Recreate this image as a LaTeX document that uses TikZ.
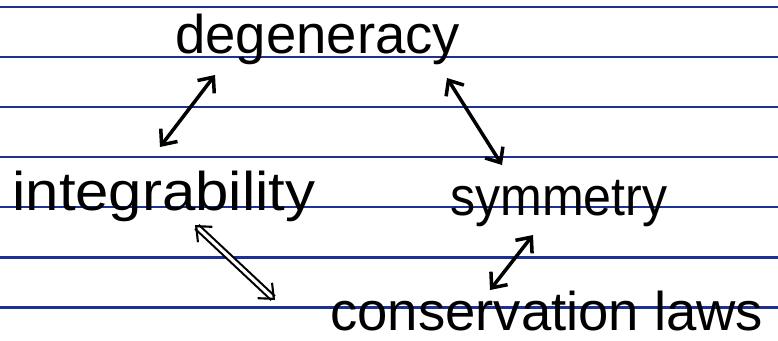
\documentclass[tikz,border=0pt]{standalone}
\usepackage{fontspec}
\setmainfont{Liberation Sans}
\usetikzlibrary{arrows.meta}
\definecolor{ruling}{RGB}{28,48,150}
\tikzset{
    word/.style={font=\fontsize{31}{36}\selectfont, inner sep=0pt, anchor=base west},
    link/.style={line width=2pt, {Straight Barb[length=7pt,width=12pt]}-{Straight Barb[length=7pt,width=12pt]}}
}
\begin{document}
\begin{tikzpicture}
\useasboundingbox (0,0) rectangle (15.56,6.8);
\clip (0,0) rectangle (15.56,6.8);
\fill[white](0,0) rectangle (15.56,6.8);
% ruled paper
\foreach \k in {0,...,6}
{
    \draw[ruling, line width=1.7pt](0,6.66-\k)--(15.56,6.66-\k);
}

\node[word] (deg) at (3.5,5.74) {degeneracy};
\node[word, transform shape, xscale=1.1] (int) at (0.24,2.6) {integrability};
\node[word, transform shape, xscale=0.92] (sym) at (9.0,2.5) {symmetry};
\node[word] (cons) at (6.6,0.2) {conservation laws};

\draw[link]([shift={(0.8,-0.44)}]deg.base west)--([shift={(2.96,1.26)}]int.base west);
\draw[link]([shift={(5.44,-0.5)}]deg.base west)--([shift={(1.04,1.0)}]sym.base west);
\draw[link, double, double distance=1.8pt, line width=1.2pt]([shift={(3.66,-0.3)}]int.base west)--([shift={(-1.1,0.6)}]cons.base west);
\draw[link]([shift={(1.66,-0.4)}]sym.base west)--([shift={(3.2,0.8)}]cons.base west);

\end{tikzpicture}
\end{document}
